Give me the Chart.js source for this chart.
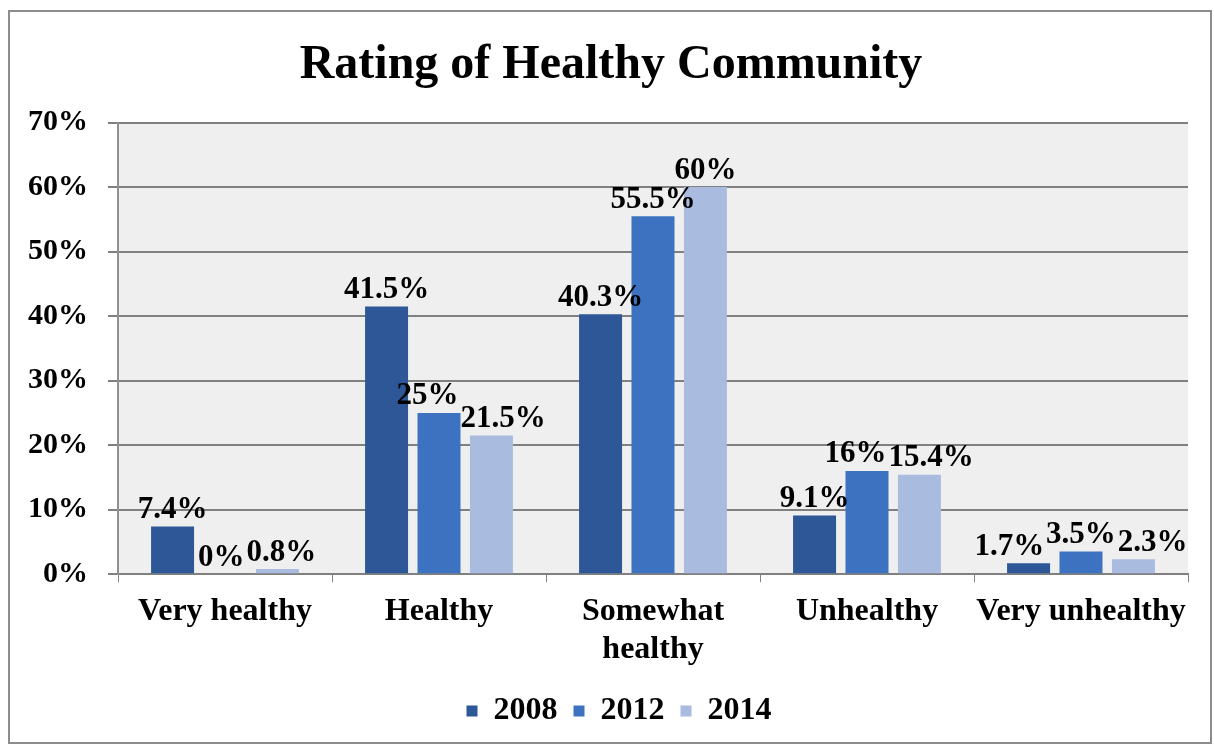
<!DOCTYPE html>
<html>
<head>
<meta charset="utf-8">
<script src="https://cdn.jsdelivr.net/npm/chart.js@4.4.1/dist/chart.umd.min.js"></script>
<style>
  html, body { margin: 0; padding: 0; background: #fff; }
  #wrap { position: relative; width: 1214px; height: 753px; }
  #frame { position: absolute; left: 8px; top: 10px; width: 1200px; height: 730px; border: 2px solid #8d8d8d; pointer-events: none; }
</style>
</head>
<body>
<div id="wrap">
  <canvas id="ratingChart" width="1214" height="753"></canvas>
  <div id="frame"></div>
</div>
<script>
// Data
const categories = ['Very healthy', 'Healthy', ['Somewhat', 'healthy'], 'Unhealthy', 'Very unhealthy'];
const years = ['2008', '2012', '2014'];
const values2008 = [7.4, 41.5, 40.3, 9.1, 1.7];
const values2012 = [0, 25, 55.5, 16, 3.5];
const values2014 = [0.8, 21.5, 60, 15.4, 2.3];
const yTicks = [0, 10, 20, 30, 40, 50, 60, 70];

const barColors = ['#2d5797', '#3c72c0', '#a9bbdf'];
const serif = '"Liberation Serif", "Times New Roman", serif';

// plot background
const plotBg = {
    id: 'plotBg',
    beforeDraw(chart) {
        const { ctx, chartArea: a } = chart;
        ctx.save();
        ctx.fillStyle = '#efefef';
        ctx.fillRect(a.left, a.top, a.right - a.left, a.bottom - a.top);
        ctx.restore();
    }
};

// title and legend sit a bit right of the canvas centre in the original
const centreShift = {
    id: 'centreShift',
    afterLayout(chart) {
        chart.titleBlock.left += 26;
        chart.legend.left += 42;
    }
};

// value labels above bars, nudged sideways when neighbours collide
const valueLabels = {
    id: 'valueLabels',
    afterDatasetsDraw(chart) {
        const ctx = chart.ctx;
        const fontSize = 31;
        ctx.save();
        ctx.font = 'bold ' + fontSize + 'px ' + serif;
        ctx.fillStyle = '#000';
        ctx.textAlign = 'center';
        ctx.textBaseline = 'bottom';
        const nSets = chart.data.datasets.length;
        chart.data.labels.forEach((_, j) => {
            const items = [];
            for (let i = 0; i < nSets; i++) {
                const bar = chart.getDatasetMeta(i).data[j];
                const text = chart.data.datasets[i].data[j] + '%';
                items.push({ text, x: bar.x, y: bar.y - 1, w: ctx.measureText(text).width });
            }
            for (let pass = 0; pass < 6; pass++) {
                for (let k = 0; k < items.length - 1; k++) {
                    const a = items[k], b = items[k + 1];
                    if (Math.abs(a.y - b.y) >= fontSize * 0.9) continue;
                    const overlap = (a.x + a.w / 2 + 2) - (b.x - b.w / 2);
                    if (overlap > 0) { a.x -= overlap / 2; b.x += overlap / 2; }
                }
            }
            items.forEach(it => ctx.fillText(it.text, it.x, it.y));
        });
        ctx.restore();
    }
};

const ratingChart = new Chart(document.getElementById('ratingChart'), {
    type: 'bar',
    data: {
        labels: categories,
        datasets: [
            { label: years[0], data: values2008, backgroundColor: barColors[0] },
            { label: years[1], data: values2012, backgroundColor: barColors[1] },
            { label: years[2], data: values2014, backgroundColor: barColors[2] },
        ]
    },
    options: {
        responsive: false,
        animation: false,
        categoryPercentage: 0.735,
        barPercentage: 0.82,
        layout: { padding: { left: 8, right: 26, top: 10, bottom: 16 } },
        plugins: {
            title: {
                display: true,
                text: 'Rating of Healthy Community',
                color: '#000',
                font: { family: serif, size: 48, weight: 'bold' },
                padding: { top: 27, bottom: 28 }
            },
            legend: {
                position: 'bottom',
                labels: {
                    color: '#000',
                    font: { family: serif, size: 32, weight: 'bold' },
                    boxWidth: 11,
                    boxHeight: 11,
                    padding: 16
                }
            },
            tooltip: { enabled: false }
        },
        scales: {
            x: {
                grid: { display: true, drawOnChartArea: false, offset: true, color: '#808080', tickLength: 8 },
                border: { color: '#808080', width: 2 },
                ticks: {
                    color: '#000',
                    font: { family: serif, size: 32, weight: 'bold', lineHeight: 1.2 },
                    padding: 10,
                    autoSkip: false,
                    maxRotation: 0
                }
            },
            y: {
                min: 0,
                max: 70,
                afterBuildTicks(axis) { axis.ticks = yTicks.map(v => ({ value: v })); },
                grid: { color: '#808080', lineWidth: 2, tickLength: 10 },
                border: { display: true, color: '#909090', width: 2 },
                ticks: {
                    color: '#000',
                    font: { family: serif, size: 30, weight: 'bold' },
                    padding: 20,
                    callback: v => v + '%'
                }
            }
        }
    },
    plugins: [plotBg, centreShift, valueLabels]
});
</script>
</body>
</html>
